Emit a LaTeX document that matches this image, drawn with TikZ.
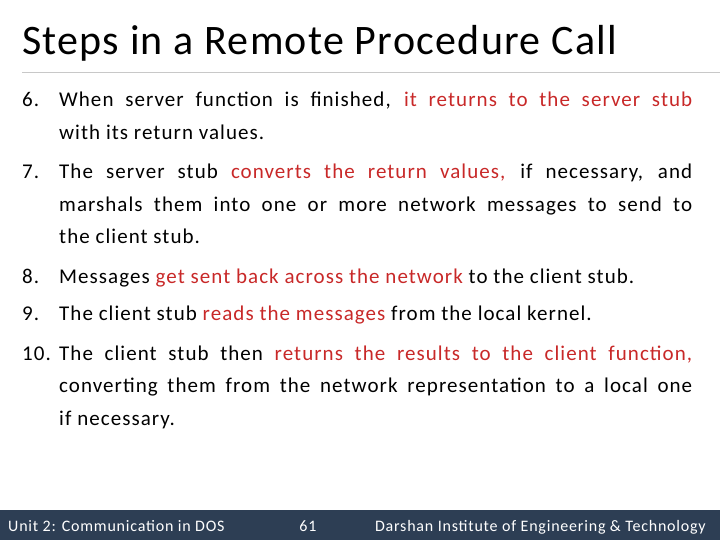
\documentclass[tikz,border=0pt]{standalone}
\usepackage{fontspec}
\setmainfont{Carlito}[LetterSpace=5]
\newfontfamily\titlefont{Carlito}[LetterSpace=3]
\usetikzlibrary{positioning}
\definecolor{hilite}{RGB}{200,40,40}
\definecolor{footbar}{RGB}{45,62,84}
\definecolor{rulegray}{RGB}{200,200,200}
\newcommand{\hl}[1]{\textcolor{hilite}{#1}}
\hyphenpenalty=10000
\exhyphenpenalty=10000
\begin{document}
\begin{tikzpicture}[x=1pt,y=-1pt,
  num/.style={anchor=base west,inner sep=0pt,font=\fontsize{21}{32.5}\selectfont},
  item/.style={anchor=base west,inner sep=0pt,text width=633pt,align=justify,font=\fontsize{21}{32.5}\selectfont},
  foot/.style={inner sep=0pt,text=white,font=\fontsize{16}{18}\selectfont}]
  \useasboundingbox (0,0) rectangle (720,540);
  % title
  \node[anchor=base west,inner sep=0pt,font=\titlefont\fontsize{42}{44}\selectfont] (title) at (22,55) {Steps in a Remote Procedure Call};
  \draw[rulegray] (22,72) -- (720,72);
  % items
  \node[num] (n6) at (22,107) {6.};
  \node[item] (i6) at (59,107) {When server function is finished, \hl{it returns to the server stub}\linebreak with its return values.};
  \node[num] (n7) at (22,179) {7.};
  \node[item] (i7) at (59,179) {The server stub \hl{converts the return values,} if necessary, and\linebreak marshals them into one or more network messages to send to\linebreak the client stub.};
  \node[num] (n8) at (22,283) {8.};
  \node[item] (i8) at (59,283) {Messages \hl{get sent back across the network} to the client stub.};
  \node[num] (n9) at (22,320) {9.};
  \node[item] (i9) at (59,320) {The client stub \hl{reads the messages} from the local kernel.};
  \node[num] (n10) at (22,360) {10.};
  \node[item] (i10) at (59,360) {The client stub then \hl{returns the results to the client function,}\linebreak converting them from the network representation to a local one\linebreak if necessary.};
  % footer
  \fill[footbar] (0,510) rectangle (720,540);
  \node[foot,anchor=base west] (unit) at (8,531) {Unit 2: Communication in DOS};
  \node[foot,anchor=base] (page) at (308,531) {61};
  \node[foot,anchor=base east] (inst) at (706,531) {Darshan Institute of Engineering \& Technology};
\end{tikzpicture}
\end{document}
